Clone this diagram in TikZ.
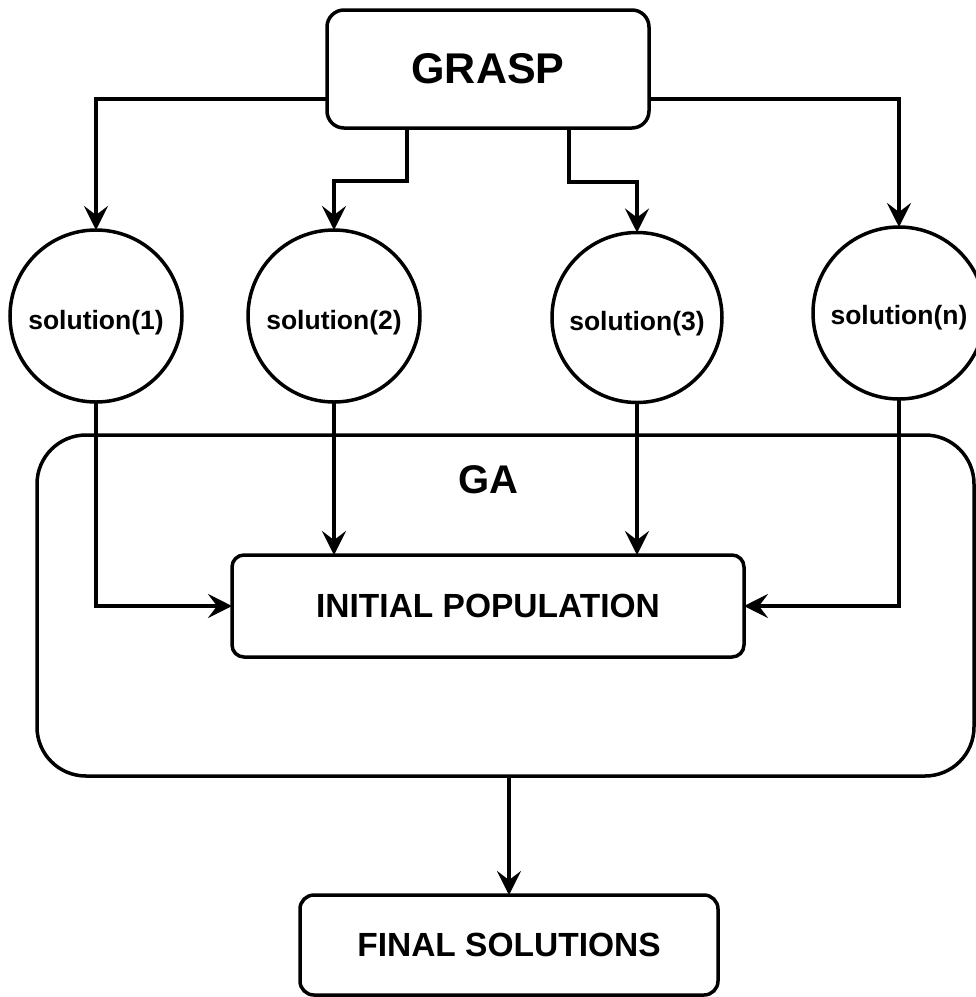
\documentclass[tikz,border=0pt]{standalone}
\usepackage{fontspec}
\setmainfont{Liberation Sans}
\usetikzlibrary{arrows.meta}
\tikzset{
  x=1pt, y=-1pt,
  every node/.style={inner sep=0pt, outer sep=0pt},
  box/.style={draw, line width=3.5pt, rectangle, font=\bfseries},
  solnode/.style={draw, line width=3.5pt, circle, minimum size=172pt},
  arr/.style={line width=3.5pt, -{Stealth[length=24pt,width=24pt,inset=9pt]}},
}
\begin{document}
\begin{tikzpicture}
\useasboundingbox (0,0) rectangle (976,997);
\clip (0,0) rectangle (976,997);

% outer GA container
\node[box, rounded corners=49pt, minimum width=937pt, minimum height=341pt] (ga) at (505.5,605.5) {};
\node[font=\fontsize{40}{44}\selectfont\bfseries] (galabel) at (488,480) {GA};

% top-level GRASP block
\node[box, rounded corners=17pt, minimum width=322pt, minimum height=118pt,
      font=\fontsize{43}{48}\selectfont\bfseries] (grasp) at (488,69) {GRASP};

% GRASP solutions
\node[solnode, label={[yshift=-7pt,font=\fontsize{26.5}{30}\selectfont\bfseries]center:solution(1)}] (s1) at (96,316) {};
\node[solnode, label={[yshift=-7pt,font=\fontsize{26.5}{30}\selectfont\bfseries]center:solution(2)}] (s2) at (334,316) {};
\node[solnode, minimum size=170pt, label={[yshift=-6pt,font=\fontsize{26.5}{30}\selectfont\bfseries]center:solution(3)}] (s3) at (637,317.5) {};
\node[solnode, label={[yshift=-5pt,font=\fontsize{26.5}{30}\selectfont\bfseries]center:solution(n)}] (sn) at (899,313) {};

% GA stages
\node[box, rounded corners=12pt, minimum width=512pt, minimum height=102pt,
      font=\fontsize{33.5}{38}\selectfont\bfseries] (init) at (488,606) {INITIAL POPULATION};
\node[box, rounded corners=14pt, minimum width=418pt, minimum height=100pt,
      font=\fontsize{33.5}{38}\selectfont\bfseries] (final) at (509,945) {FINAL SOLUTIONS};

% GRASP to solutions
\draw[arr] ([yshift=-30pt]grasp.west) -| (s1.north);
\draw[arr] ([xshift=-81pt]grasp.south) -- ++(0,53) -| (s2.north);
\draw[arr] ([xshift=81pt]grasp.south) -- ++(0,54) -| (s3.north);
\draw[arr] ([yshift=-30pt]grasp.east) -| (sn.north);

% solutions to initial population
\draw[arr] (s1.south) |- (init.west);
\draw[arr] (s2.south) -- (s2.south |- init.north);
\draw[arr] (s3.south) -- (s3.south |- init.north);
\draw[arr] (sn.south) |- (init.east);

% GA to final solutions
\draw[arr] (final.north |- ga.south) -- (final.north);
\end{tikzpicture}
\end{document}
